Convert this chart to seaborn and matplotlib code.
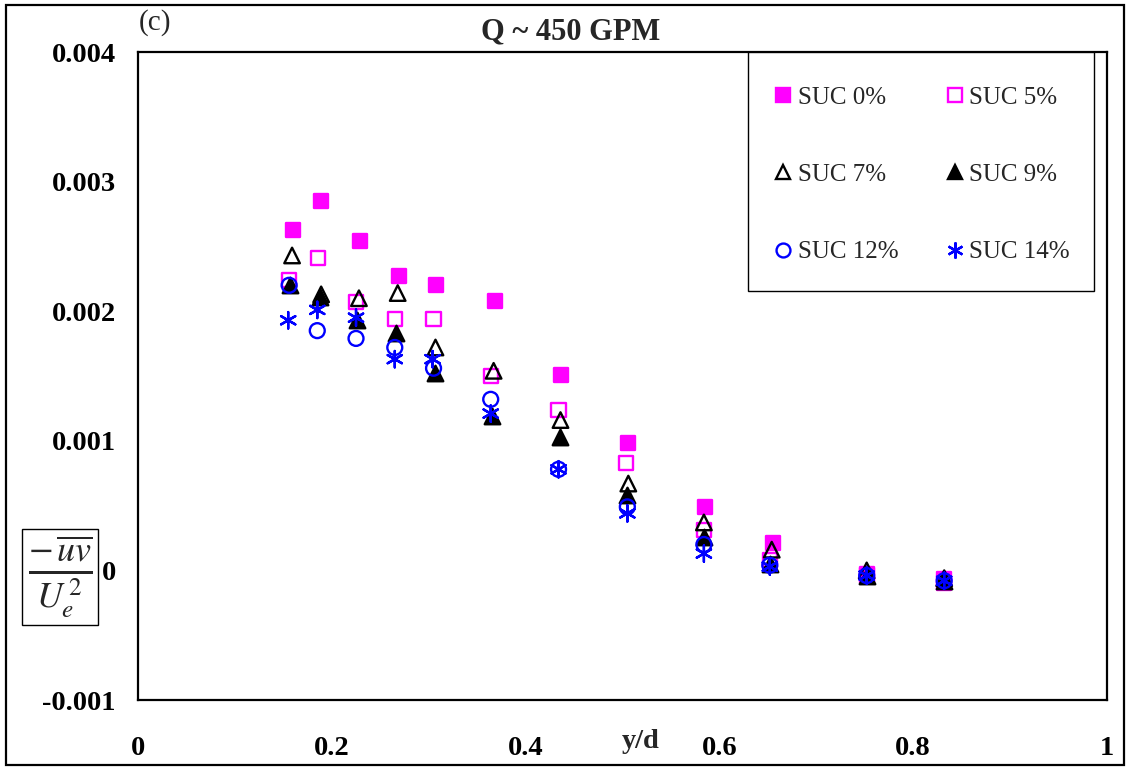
import matplotlib
matplotlib.use("Agg")
import matplotlib.pyplot as plt
from matplotlib.lines import Line2D
from matplotlib.patches import Rectangle
import seaborn as sns
import pandas as pd

# Reynolds shear stress profiles, Q ~ 450 GPM, for several sucrose concentrations
labels = ["SUC 0%", "SUC 5%", "SUC 7%", "SUC 9%", "SUC 12%", "SUC 14%"]

x_suc0 = [0.160, 0.189, 0.229, 0.269, 0.308, 0.368, 0.437, 0.506, 0.585, 0.655, 0.752, 0.832]
y_suc0 = [0.00263, 0.00285, 0.00254, 0.00227, 0.00220, 0.00208, 0.00151, 0.00098, 0.00049, 0.00021, -0.00003, -0.00007]

x_suc5 = [0.156, 0.186, 0.225, 0.265, 0.305, 0.364, 0.434, 0.504, 0.584, 0.652, 0.752, 0.832]
y_suc5 = [0.00224, 0.00241, 0.00207, 0.00194, 0.00194, 0.00150, 0.00124, 0.00083, 0.00031, 0.00008, -0.00004, -0.00010]

x_suc7 = [0.159, 0.189, 0.228, 0.268, 0.307, 0.367, 0.436, 0.506, 0.584, 0.654, 0.752, 0.832]
y_suc7 = [0.00243, 0.00213, 0.00210, 0.00214, 0.00172, 0.00154, 0.00116, 0.00067, 0.00037, 0.00016, 0.00000, -0.00006]

x_suc9 = [0.157, 0.188, 0.226, 0.266, 0.307, 0.365, 0.435, 0.505, 0.584, 0.652, 0.752, 0.832]
y_suc9 = [0.00220, 0.00211, 0.00193, 0.00183, 0.00152, 0.00119, 0.00103, 0.00058, 0.00026, 0.00005, -0.00004, -0.00008]

x_suc12 = [0.156, 0.185, 0.225, 0.265, 0.305, 0.364, 0.434, 0.505, 0.584, 0.652, 0.752, 0.832]
y_suc12 = [0.00220, 0.00185, 0.00179, 0.00172, 0.00156, 0.00132, 0.00078, 0.00049, 0.00020, 0.00004, -0.00004, -0.00008]

x_suc14 = [0.155, 0.185, 0.225, 0.265, 0.304, 0.364, 0.434, 0.505, 0.584, 0.652, 0.752, 0.832]
y_suc14 = [0.00193, 0.00201, 0.00195, 0.00163, 0.00163, 0.00121, 0.00078, 0.00044, 0.00013, 0.00003, -0.00004, -0.00008]

x_ticks = [0, 0.2, 0.4, 0.6, 0.8, 1]
x_tick_labels = ["0", "0.2", "0.4", "0.6", "0.8", "1"]
y_ticks = [-0.001, 0, 0.001, 0.002, 0.003, 0.004]
y_tick_labels = ["-0.001", "0", "0.001", "0.002", "0.003", "0.004"]

xs = [x_suc0, x_suc5, x_suc7, x_suc9, x_suc12, x_suc14]
ys = [y_suc0, y_suc5, y_suc7, y_suc9, y_suc12, y_suc14]

MAGENTA = "#FF00FF"
BLUE = "#0000FF"
styles = [
    dict(marker="s", color=MAGENTA, filled=True, s=110, ms=10),
    dict(marker="s", color=MAGENTA, filled=False, s=105, ms=10),
    dict(marker="^", color="black", filled=False, s=125, ms=10),
    dict(marker="^", color="black", filled=True, s=125, ms=10),
    dict(marker="o", color=BLUE, filled=False, s=115, ms=10),
    dict(marker=(6, 2, 0), color=BLUE, filled=False, s=140, ms=11.5),
]

sns.set_theme(style="white")
plt.rcParams["font.family"] = ["Liberation Serif", "DejaVu Serif"]
plt.rcParams["mathtext.fontset"] = "stix"

W, H = 1126, 767
fig = plt.figure(figsize=(W / 100, H / 100), dpi=100)
fig.patch.set_facecolor("white")
ax = fig.add_axes([138 / W, (H - 700) / H, 969 / W, 648 / H])

for lab, xv, yv, st in zip(labels, xs, ys, styles):
    df = pd.DataFrame({"y/d": xv, "uv": yv})
    sns.scatterplot(data=df, x="y/d", y="uv", ax=ax, marker=st["marker"], s=st["s"],
                    color=st["color"], edgecolor=st["color"], linewidth=1.7,
                    legend=False, zorder=3)
    coll = ax.collections[-1]
    coll.set_edgecolor(st["color"])
    coll.set_facecolor(st["color"] if st["filled"] else "none")

ax.set_xlim(0, 1)
ax.set_ylim(-0.001, 0.004)
ax.set_xticks(x_ticks)
ax.set_xticklabels(x_tick_labels)
ax.set_yticks(y_ticks)
ax.set_yticklabels(y_tick_labels)
ax.grid(False)
for sp in ax.spines.values():
    sp.set_visible(True)
    sp.set_color("black")
    sp.set_linewidth(1.6)

ax.tick_params(axis="both", which="major", direction="out", length=6, width=0.8,
               color="#444444", labelsize=20.5, labelcolor="black")
ax.tick_params(axis="x", pad=20)
ax.tick_params(axis="y", pad=10)
for t in ax.get_xticklabels() + ax.get_yticklabels():
    t.set_fontweight("bold")

ax.set_xlabel("")
ax.set_ylabel("")
fig.text(641 / W, 1 - 742 / H, "y/d", ha="center", va="center",
         fontsize=20.5, fontweight="bold")

fig.text(571 / W, 1 - 32 / H, "Q ~ 450 GPM", ha="center", va="center",
         fontsize=22, fontweight="bold")
fig.text(155 / W, 1 - 23 / H, "(c)", ha="center", va="center", fontsize=21)

fig.text(60 / W, 1 - 577 / H, r"$\frac{-\,\overline{uv}}{U_e^{\,2}}$",
         ha="center", va="center", fontsize=37,
         bbox=dict(boxstyle="square,pad=0.1", facecolor="white",
                   edgecolor="black", linewidth=1.0))

# legend frame drawn as a plain rectangle in axes coordinates
def ax_x(px):
    return (px - 138) / 969

def ax_y(py):
    return (700 - py) / 648

ax.add_patch(Rectangle((ax_x(748), ax_y(291)), ax_x(1094) - ax_x(748),
                       ax_y(52) - ax_y(291), transform=ax.transAxes,
                       facecolor="white", edgecolor="black", linewidth=1.0,
                       zorder=4, clip_on=False))

handles = [
    Line2D([], [], linestyle="none", marker=st["marker"], markersize=st["ms"],
           markeredgewidth=1.7, markeredgecolor=st["color"],
           markerfacecolor=st["color"] if st["filled"] else "none")
    for st in styles
]
order = [0, 2, 4, 1, 3, 5]
leg = ax.legend([handles[i] for i in order], [labels[i] for i in order],
                ncol=2, loc="upper left",
                bbox_to_anchor=(ax_x(775), ax_y(86)), borderaxespad=0,
                borderpad=0, fontsize=18, frameon=False,
                handlelength=0.65, handletextpad=0.25, columnspacing=1.95,
                labelspacing=2.2)
leg.set_zorder(5)

# outer border of the figure
fig.add_artist(Rectangle((6 / W, 2 / H), 1118 / W, 760 / H, transform=fig.transFigure,
                         fill=False, edgecolor="black", linewidth=1.6))

fig.savefig("out.png", dpi=100)
